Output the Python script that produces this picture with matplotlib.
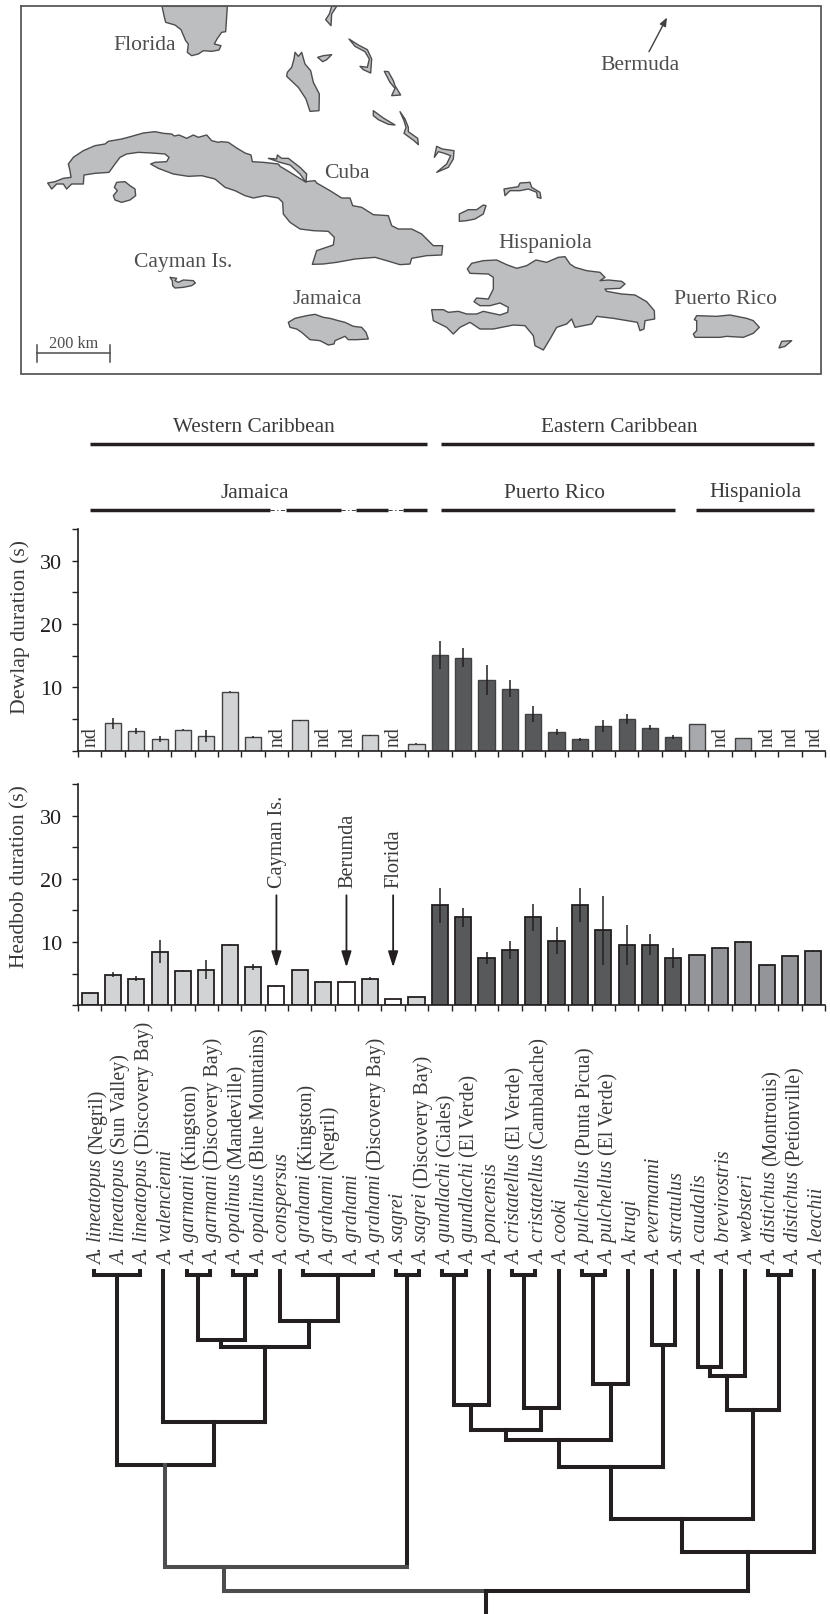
import numpy as np
import matplotlib
matplotlib.use('Agg')
import matplotlib.pyplot as plt
from matplotlib.patches import Polygon

W, H = 830, 1615
plt.rcParams['font.family'] = ['Liberation Serif', 'DejaVu Serif']

# ---- bar data (nan = nd) ----
nan = np.nan
dewlap = [nan, 4.3, 3.1, 1.9, 3.3, 2.3, 9.3, 2.15, nan, 4.8, nan, nan, 2.4, nan, 1.1,
          15.1, 14.7, 11.2, 9.8, 5.8, 2.9, 1.8, 3.9, 5.0, 3.6, 2.2,
          4.2, nan, 2.0, nan, nan, nan]
dewlap_err = [0, 0.85, 0.45, 0.45, 0.08, 1.0, 0.08, 0.12, 0, 0.08, 0, 0, 0.15, 0, 0.05,
              2.25, 1.45, 2.4, 1.4, 1.3, 0.45, 0.25, 1.0, 0.85, 0.4, 0.35,
              0.05, 0, 0.05, 0, 0, 0]
headbob = [1.9, 4.85, 4.2, 8.5, 5.5, 5.6, 9.6, 6.05, 3.0, 5.6, 3.75, 3.75, 4.2, 1.0, 1.3,
           15.8, 13.95, 7.5, 8.75, 13.95, 10.2, 15.85, 11.9, 9.6, 9.6, 7.5,
           7.95, 9.0, 10.0, 6.3, 7.85, 8.6]
headbob_err = [0.05, 0.35, 0.4, 1.75, 0.05, 1.5, 0.05, 0.5, 0.05, 0.05, 0.05, 0.05, 0.25, 0.05, 0.05,
               2.75, 1.5, 1.0, 1.45, 2.15, 2.15, 2.75, 5.45, 3.15, 1.7, 1.55,
               0.05, 0.1, 0.1, 0.05, 0.05, 0.08]
regions = ['J'] * 15 + ['P'] * 11 + ['H'] * 6
white_bars = [8, 11, 13]
arrow_labels = [(8, 'Cayman Is.'), (11, 'Berumda'), (13, 'Florida')]
yticks = [0, 5, 10, 15, 20, 25, 30, 35]
ytick_labels = ['', '', '10', '', '20', '', '30', '']

species = ['lineatopus', 'lineatopus', 'lineatopus', 'valencienni', 'garmani', 'garmani',
           'opalinus', 'opalinus', 'conspersus', 'grahami', 'grahami', 'grahami', 'grahami',
           'sagrei', 'sagrei', 'gundlachi', 'gundlachi', 'poncensis', 'cristatellus',
           'cristatellus', 'cooki', 'pulchellus', 'pulchellus', 'krugi', 'evermanni',
           'stratulus', 'caudalis', 'brevirostris', 'websteri', 'distichus', 'distichus',
           'leachii']
sites = ['(Negril)', '(Sun Valley)', '(Discovery Bay)', '', '(Kingston)', '(Discovery Bay)',
         '(Mandeville)', '(Blue Mountains)', '', '(Kingston)', '(Negril)', '', '(Discovery Bay)',
         '', '(Discovery Bay)', '(Ciales)', '(El Verde)', '', '(El Verde)', '(Cambalache)', '',
         '(Punta Picua)', '(El Verde)', '', '', '', '', '', '', '(Montrouis)', '(Petionville)', '']

# ---- tree: brackets of tips, then merges (name, left, right, depth in px) ----
brackets = {'lin': [0, 1, 2], 'gar': [4, 5], 'opa': [6, 7], 'gra': [9, 10, 11, 12],
            'sag': [13, 14], 'gun': [15, 16], 'cri': [18, 19], 'pul': [21, 22], 'dis': [29, 30]}
merges = [('n1', 'gar', 'opa', 1341), ('n2', 8, 'gra', 1321.7), ('n3', 'n1', 'n2', 1348),
          ('n4', 3, 'n3', 1423), ('n5', 'lin', 'n4', 1466), ('n6', 'n5', 'sag', 1567.7),
          ('n7', 'gun', 17, 1406), ('n8', 'cri', 20, 1409), ('n9', 'n7', 'n8', 1430.7),
          ('n10', 'pul', 23, 1385), ('n11', 'n9', 'n10', 1441), ('n12', 24, 25, 1345.7),
          ('n13', 'n11', 'n12', 1467.7), ('n14', 26, 27, 1367.7), ('n15', 'n14', 28, 1377.3),
          ('n16', 'n15', 'dis', 1411), ('n17', 'n13', 'n16', 1520), ('n18', 'n17', 31, 1553.3),
          ('root', 'n6', 'n18', 1591.7)]

florida = [(441, 22), (447, 50), (452, 70), (480, 78), (498, 92), (512, 125), (520, 135), (517, 160),
           (530, 170), (550, 165), (565, 155), (590, 157), (612, 153), (618, 140), (598, 135),
           (606, 120), (620, 100), (632, 98), (637, 22)]
cuba_north = [(98, 552), (120, 548), (145, 538), (168, 535), (165, 515), (160, 495), (175, 475),
              (205, 455), (240, 440), (270, 435), (280, 427), (320, 420), (350, 412), (385, 402),
              (420, 398), (445, 403), (470, 405), (478, 411), (492, 408), (515, 418), (535, 408),
              (550, 415), (575, 408), (590, 425), (610, 430), (618, 428), (640, 430), (665, 447),
              (690, 462), (708, 468), (712, 488), (745, 490), (790, 495)]
cuba_east = [(0, 502), (30, 520), (75, 548), (105, 545), (110, 552), (150, 575), (185, 597), (210, 597),
             (218, 620), (245, 625), (280, 647), (325, 650), (335, 680), (355, 690), (395, 690),
             (425, 705), (460, 740), (488, 740), (485, 768), (440, 770), (395, 778), (390, 795),
             (360, 797), (320, 785), (285, 775), (225, 780), (170, 790), (130, 795), (97, 796),
             (110, 755), (160, 738), (163, 715), (145, 697), (100, 695), (60, 690), (30, 670),
             (10, 645)]
cuba_south = [(803, 610), (790, 597), (750, 590), (715, 597), (690, 590), (660, 575), (630, 565),
              (600, 540), (560, 530), (520, 532), (475, 525), (430, 508), (407, 495), (420, 490),
              (455, 488), (462, 475), (450, 465), (410, 462), (370, 460), (335, 465), (315, 475),
              (300, 495), (282, 520), (240, 523), (207, 528), (205, 555), (170, 555), (155, 570),
              (145, 555), (125, 555), (110, 570)]
cuba_keys = [(-35, 478), (-10, 480), (-8, 468), (5, 478), (25, 478), (60, 505), (80, 525), (78, 550),
             (60, 525), (30, 498), (0, 490)]
youth = [(305, 550), (330, 548), (345, 560), (360, 570), (362, 590), (345, 603), (320, 610), (300, 603),
         (295, 590), (307, 575), (298, 565)]
cayman = [(465, 835), (485, 838), (480, 845), (490, 850), (505, 843), (535, 845), (541, 852), (530, 860),
          (505, 865), (480, 867), (473, 860), (472, 845)]
bahama_a = [(170, 22), (155, 22), (148, 45), (137, 62), (153, 80), (155, 45)]
andros = [(45, 160), (55, 172), (65, 160), (75, 195), (92, 215), (100, 250), (118, 285), (117, 335),
          (90, 337), (78, 300), (55, 265), (20, 232), (22, 220), (35, 205), (42, 180)]
bahama_b = [(113, 175), (130, 170), (155, 167), (140, 182), (128, 188)]
bahama_c = [(207, 120), (235, 138), (262, 152), (275, 180), (272, 222), (250, 212), (240, 202),
            (262, 205), (268, 180), (255, 158), (225, 142)]
bahama_d = [(313, 217), (325, 218), (340, 245), (345, 260), (362, 288), (335, 290), (345, 268), (330, 250)]
bahama_e = [(280, 335), (310, 357), (345, 378), (325, 376), (295, 362), (280, 350)]
bahama_f = [(360, 338), (375, 360), (385, 385), (385, 398), (413, 418), (415, 437), (402, 425),
            (372, 403), (378, 385), (372, 365)]
bahama_g = [(470, 442), (487, 450), (522, 455), (520, 480), (505, 505), (470, 520), (500, 495),
            (512, 470), (490, 462), (475, 458), (463, 475)]
caicos = [(672, 570), (715, 563), (720, 552), (750, 550), (755, 565), (780, 580), (783, 598), (772, 595),
          (770, 580), (745, 570), (720, 575), (690, 575), (675, 590)]
inagua = [(538, 645), (565, 632), (590, 632), (610, 618), (618, 620), (610, 645), (585, 660), (560, 665),
          (538, 667)]
hisp_west = [(455, 932), (490, 932), (505, 940), (535, 937), (560, 945), (590, 945), (610, 937), (660, 948),
             (683, 940), (685, 925), (660, 912), (630, 920), (600, 920), (582, 908), (590, 897), (625, 900),
             (640, 870), (640, 835), (625, 825), (570, 823), (562, 810), (575, 793), (610, 785), (650, 783),
             (680, 797), (710, 808), (740, 800), (768, 783), (800, 790)]
hisp_east = [(25, 775), (45, 773), (60, 795), (75, 805), (110, 815), (150, 820), (165, 835), (150, 845),
             (175, 843), (215, 847), (225, 855), (210, 868), (165, 870), (170, 877), (215, 885), (255, 888),
             (290, 908), (313, 935), (314, 960), (285, 965), (282, 990), (270, 995), (262, 970), (190, 958),
             (140, 952), (125, 975), (75, 985), (65, 960), (50, 975), (20, 985), (0, 1020)]
hisp_south = [(790, 1053), (765, 1040), (760, 1010), (735, 980), (700, 978), (640, 990), (600, 990),
              (570, 970), (540, 985), (520, 1005), (500, 985), (460, 965)]
jamaica = [(25, 970), (45, 958), (80, 950), (105, 946), (130, 955), (150, 958), (175, 965), (195, 970),
           (220, 982), (245, 985), (258, 1000), (265, 1020), (230, 1022), (205, 1022), (195, 1012), (165, 1025),
           (162, 1035), (145, 1038), (120, 1025), (90, 1022), (65, 1000), (50, 990), (30, 985)]
puerto_rico = [(440, 950), (500, 952), (540, 948), (590, 958), (610, 965), (628, 985), (610, 1003),
               (580, 1015), (530, 1012), (510, 1015), (435, 1015), (430, 1005), (440, 995), (440, 965), (433, 962)]
vieques = [(695, 1027), (725, 1025), (705, 1042), (687, 1047)]
map_labels = [('Florida', 144.3, 46), ('Cuba', 346.7, 174), ('Bermuda', 640, 65),
              ('Hispaniola', 545.5, 243.5), ('Cayman Is.', 182.7, 262), ('Jamaica', 326.7, 300),
              ('Puerto Rico', 725, 300)]

BLACK = '#231f20'
GRAY_BRANCH = '#4d4d4f'
TEXT = '#3a3a3c'
LIGHT, DARK = '#d1d3d4', '#58595b'


def crop(pts, x0):
    return [(x0 + x / 3, y / 3) for x, y in pts]


fig = plt.figure(figsize=(W / 100, H / 100), dpi=100)

# overlay in pixel coords for map, headers and tree
over = fig.add_axes([0, 0, 1, 1])
over.set_xlim(0, W)
over.set_ylim(H, 0)
over.axis('off')

# ---- map ----
over.plot([21, 820.7, 820.7, 21, 21], [6.7, 6.7, 374.7, 374.7, 6.7], color='#58595b', lw=1.3, solid_joinstyle='miter')
islands = [crop(florida, 15),
           crop(cuba_north, 15) + crop(cuba_east, 280) + crop(cuba_south, 15),
           crop(cuba_keys, 280),
           crop(youth, 15), crop(cayman, 15), crop(bahama_a, 280), crop(andros, 280), crop(bahama_b, 280),
           crop(bahama_c, 280), crop(bahama_d, 280), crop(bahama_e, 280), crop(bahama_f, 280),
           crop(bahama_g, 280), crop(caicos, 280), crop(inagua, 280),
           crop(hisp_west, 280) + crop(hisp_east, 550) + crop(hisp_south, 280),
           crop(jamaica, 280), crop(puerto_rico, 550), crop(vieques, 550)]
for pts in islands:
    over.add_patch(Polygon(pts, closed=True, facecolor='#bcbec0', edgecolor='#4d4d4f', lw=1.0, joinstyle='round'))
for txt, x, y in map_labels:
    over.text(x, y, txt, fontsize=15.6, color='#4d4d4f', ha='center', va='center')
over.plot([37.3, 110.3], [354.3, 354.3], color='#4d4d4f', lw=1.1)
for sx in [37.3, 110.3]:
    over.plot([sx, sx], [346, 363.3], color='#4d4d4f', lw=1.1)
over.text(74, 344.5, '200 km', fontsize=11.7, color='#4d4d4f', ha='center', va='center')
over.annotate('', xy=(667, 18.5), xytext=(649, 52.7),
              arrowprops=dict(arrowstyle='-|>,head_width=0.2,head_length=0.5', color='#414042', lw=1.0,
                              shrinkA=0, shrinkB=0))

# ---- group headers ----
for txt, x, y in [('Western Caribbean', 254, 427), ('Eastern Caribbean', 619, 427), ('Jamaica', 255, 493),
                  ('Puerto Rico', 554.7, 493), ('Hispaniola', 755.7, 493)]:
    over.text(x, y, txt, fontsize=15.3, color=TEXT, ha='center', va='center')
for x0, x1, y in [(90.3, 426.7, 445), (440.7, 814, 445), (90.3, 270, 511), (285.7, 341, 511), (356, 388, 511),
                  (402.7, 426.7, 511), (440.7, 675.3, 511), (696, 814, 511)]:
    over.plot([x0, x1], [y, y], color=BLACK, lw=2.5, solid_capstyle='butt')
for x0, x1 in [(270, 285.7), (341, 356), (388, 402.7)]:
    over.plot([x0, x1], [511, 511], color=BLACK, lw=0.6, dashes=(5, 3, 1.5, 3))


# ---- bars ----
def bar_panel(top_px, base_px, vals, errs, fills, edge, edge_w):
    ax = fig.add_axes([78 / W, 1 - base_px / H, (825 - 78) / W, (base_px - top_px) / H])
    ax.patch.set_alpha(0)
    x = np.arange(32)
    ax.bar(x, vals, width=0.69, color=fills, edgecolor=edge, linewidth=edge_w)
    ax.errorbar(x, vals, yerr=errs, fmt='none', ecolor=BLACK, elinewidth=1.1, capsize=0)
    ax.set_xlim(-0.5, 31.5)
    ax.set_ylim(0, 35)
    ax.set_xticks(np.arange(33) - 0.5)
    ax.set_xticklabels([])
    ax.set_yticks(yticks)
    ax.set_yticklabels(ytick_labels, fontsize=16, color=BLACK)
    ax.tick_params(length=4.2, width=1.0, color=BLACK, pad=7)
    for s in ['top', 'right']:
        ax.spines[s].set_visible(False)
    for s in ['left', 'bottom']:
        ax.spines[s].set_linewidth(1.2)
        ax.spines[s].set_color(BLACK)
    return ax


up_col = {'J': LIGHT, 'P': DARK, 'H': '#a7a9ac'}
low_col = {'J': LIGHT, 'P': DARK, 'H': '#939598'}
up_fills = [up_col[r] for r in regions]
low_fills = ['white' if i in white_bars else low_col[r] for i, r in enumerate(regions)]

ax1 = bar_panel(530, 751.7, dewlap, dewlap_err, up_fills, '#414042', 1.0)
ax2 = bar_panel(785, 1006.3, headbob, headbob_err, low_fills, BLACK, 1.3)

for i, v in enumerate(dewlap):
    if np.isnan(v):
        ax1.text(i + 0.06, 0.7, 'nd', rotation=90, fontsize=14.2, color=TEXT, ha='center', va='bottom')

for i, txt in arrow_labels:
    ax2.text(i + 0.05, 18.7, txt, rotation=90, fontsize=14.6, color=TEXT, ha='center', va='bottom')
    ax2.annotate('', xy=(i, 6.0), xytext=(i, 17.4),
                 arrowprops=dict(arrowstyle='-|>,head_width=0.3,head_length=0.95', color=BLACK, lw=1.3,
                                 shrinkA=0, shrinkB=0))

over.text(20, 626.7, 'Dewlap duration (s)', rotation=90, fontsize=15.7, color=TEXT, ha='center', va='center')
over.text(20, 877, 'Headbob duration (s)', rotation=90, fontsize=15.5, color=TEXT, ha='center', va='center')


# ---- tree ----
def tip_x(i):
    return 93.5 + i * 23.25


TREE_W = 2.9
renderer = fig.canvas.get_renderer()

# species labels: italic name, then the site in roman
for i in range(32):
    bx = tip_x(i) + 8.5
    t = over.text(bx, 1265, 'A. ' + species[i], rotation=90, rotation_mode='anchor', ha='left', va='baseline',
                  fontsize=14.35, style='italic', color=TEXT)
    if sites[i]:
        top = t.get_window_extent(renderer).y1
        over.text(bx, H - top - 5.5, sites[i], rotation=90, rotation_mode='anchor', ha='left', va='baseline',
                  fontsize=14.35, color=TEXT)


def seg(xs, ys, col=BLACK):
    over.plot(xs, ys, color=col, lw=TREE_W, solid_capstyle='projecting', solid_joinstyle='miter')


node_x = {}
node_y = {}
TIP_Y, BRACKET_Y = 1271.5, 1276
for i in range(32):
    node_x[i] = tip_x(i)
    node_y[i] = TIP_Y
for name, tips in brackets.items():
    xs = [tip_x(i) for i in tips]
    seg([xs[0], xs[-1]], [BRACKET_Y, BRACKET_Y])
    for bx in [xs[0], xs[-1]]:
        seg([bx, bx], [TIP_Y, BRACKET_Y])
    node_x[name] = (xs[0] + xs[-1]) / 2
    node_y[name] = BRACKET_Y

gray_stems = ['n5', 'n6']
for name, a, b, y in merges:
    mid = (node_x[a] + node_x[b]) / 2
    if name == 'n6':
        mid = 223.7  # stem sits off-centre in the figure
    ca = GRAY_BRANCH if a in gray_stems else BLACK
    cb = GRAY_BRANCH if b in gray_stems else BLACK
    seg([node_x[a], node_x[a]], [node_y[a], y], ca)
    seg([node_x[b], node_x[b]], [node_y[b], y], cb)
    seg([node_x[a], mid], [y, y], ca)
    seg([mid, node_x[b]], [y, y], GRAY_BRANCH if name == 'n6' else cb)
    node_x[name] = mid
    node_y[name] = y
seg([node_x['root'], node_x['root']], [node_y['root'], H + 5])

fig.savefig('out.png', dpi=100)
